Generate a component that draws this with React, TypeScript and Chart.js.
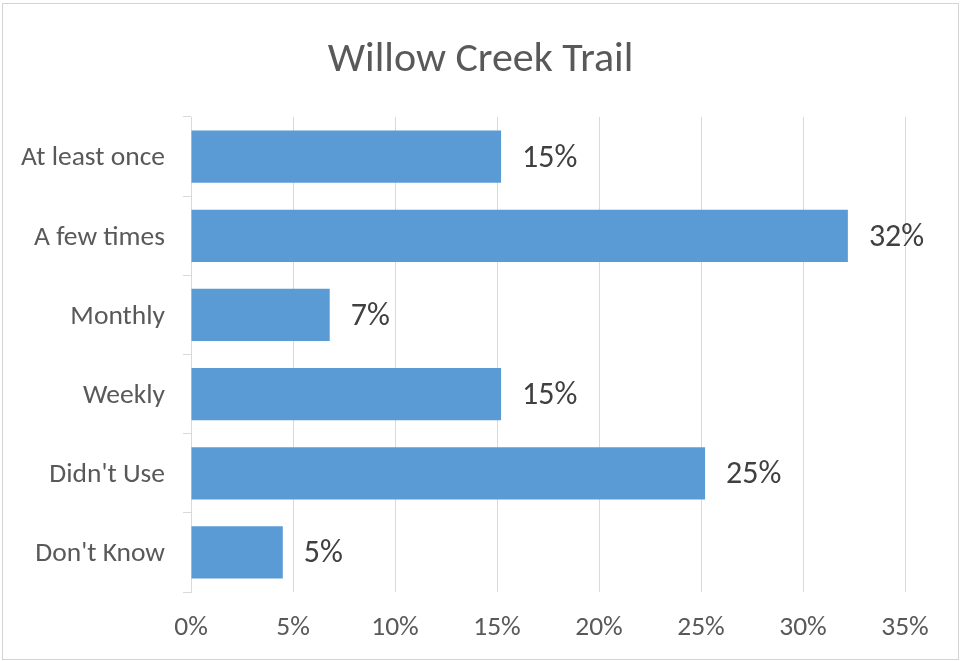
import React, { useEffect, useRef } from "react";
import { Chart, registerables } from "chart.js";

Chart.register(...registerables);

const categories = ["At least once", "A few times", "Monthly", "Weekly", "Didn't Use", "Don't Know"];
const values = [15.2, 32.2, 6.8, 15.2, 25.2, 4.5];
const valueLabels = ["15%", "32%", "7%", "15%", "25%", "5%"];
const chartTitle = "Willow Creek Trail";

const FONT = "Carlito, Calibri, Lato, sans-serif";

const dataLabelPlugin = {
  id: "dataLabels",
  afterDatasetsDraw(chart: any) {
    const ctx = chart.ctx;
    const meta = chart.getDatasetMeta(0);
    ctx.save();
    ctx.font = `32px ${FONT}`;
    ctx.fillStyle = "#404040";
    ctx.textAlign = "left";
    ctx.textBaseline = "middle";
    meta.data.forEach((bar: any, i: number) => {
      ctx.fillText(valueLabels[i], bar.x + 21, bar.y + 2);
    });
    ctx.restore();
  },
};

export default function App() {
  const ref = useRef<HTMLCanvasElement | null>(null);
  useEffect(() => {
    if (!ref.current) return;
    const chart = new Chart(ref.current, {
      type: "bar",
      data: {
        labels: categories,
        datasets: [
          {
            data: values,
            backgroundColor: "#5b9bd5",
            borderWidth: 0,
            categoryPercentage: 1,
            barPercentage: 0.66,
          },
        ],
      },
      plugins: [dataLabelPlugin],
      options: {
        indexAxis: "y",
        animation: false,
        responsive: false,
        maintainAspectRatio: false,
        layout: { padding: { left: 0, right: 0, top: 0, bottom: 0 } },
        plugins: {
          legend: { display: false },
          tooltip: { enabled: false },
          title: {
            display: true,
            text: chartTitle,
            color: "#595959",
            font: { family: FONT, size: 42, weight: "normal" },
            padding: { top: 35, bottom: 31.6 },
          },
        },
        scales: {
          x: {
            min: 0,
            max: 35,
            ticks: {
              stepSize: 5,
              callback: (v: any) => v + "%",
              color: "#595959",
              font: { family: FONT, size: 27.5 },
              padding: 20,
              maxRotation: 0,
            },
            grid: { color: "#d9d9d9", drawTicks: false },
            border: { display: false },
            afterFit: (s: any) => {
              s.height = 69;
            },
          },
          y: {
            ticks: {
              color: "#595959",
              font: { family: FONT, size: 27.5 },
              padding: 18,
              labelOffset: 2,
            },
            grid: { drawOnChartArea: false, drawTicks: true, tickLength: 8, color: "#d9d9d9" },
            border: { display: true, color: "#d9d9d9" },
            afterFit: (s: any) => {
              s.width = 191;
            },
          },
          yRight: {
            type: "category",
            position: "right",
            labels: categories,
            ticks: { display: false },
            grid: { display: false, drawTicks: false },
            border: { display: false },
            afterFit: (s: any) => {
              s.width = 56;
            },
          },
        },
      },
    });
    return () => chart.destroy();
  }, []);
  return (
    <div style={{ position: "fixed", left: 0, top: 0, width: 961, height: 661, background: "#fff" }}>
      <canvas ref={ref} width={961} height={661} style={{ position: "absolute", left: 0, top: 0 }} />
      <div
        style={{
          position: "absolute",
          left: 2,
          top: 3,
          width: 955,
          height: 655,
          border: "1px solid #d4d4d4",
          pointerEvents: "none",
        }}
      />
    </div>
  );
}
